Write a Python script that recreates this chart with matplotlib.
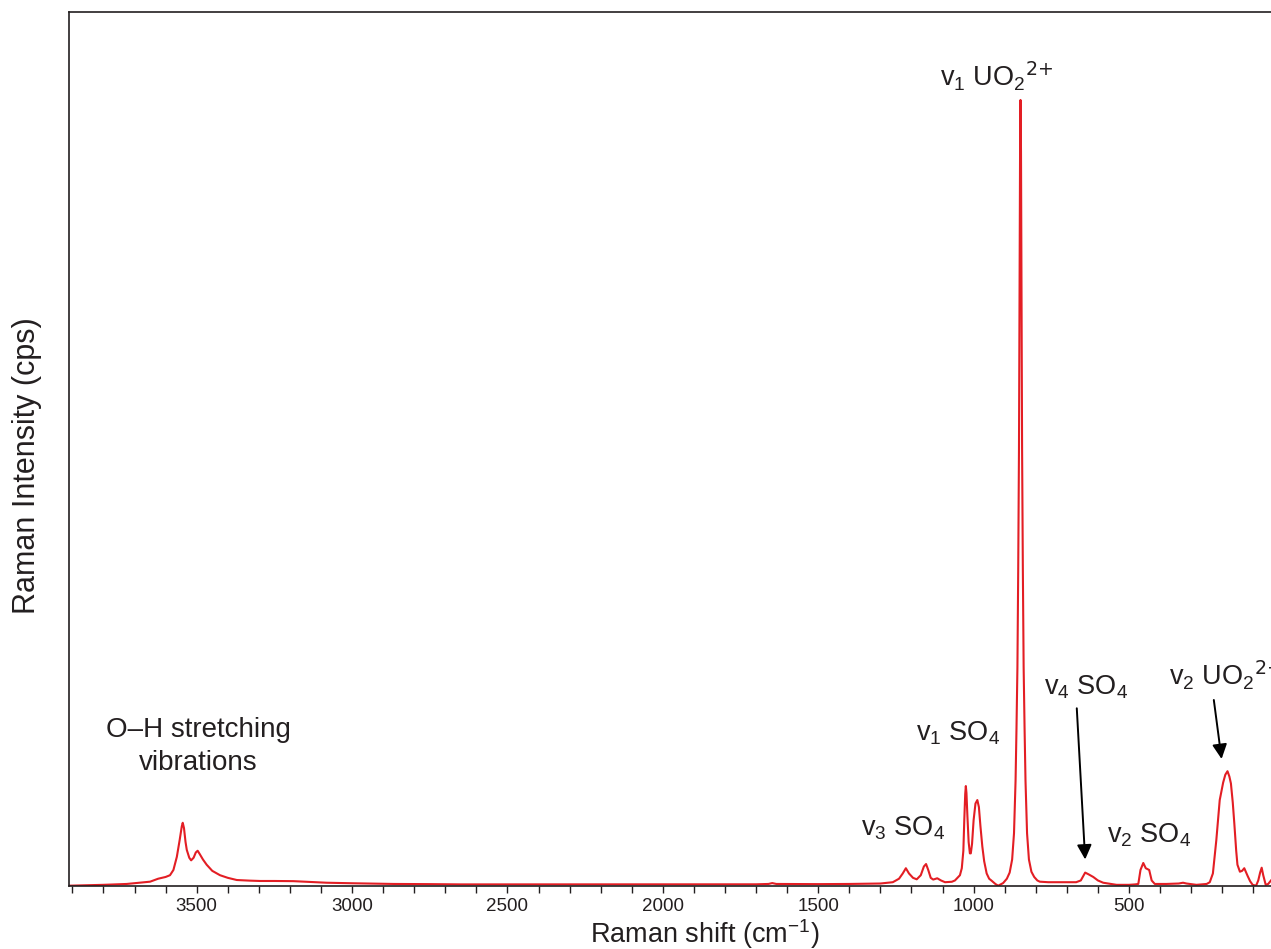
"""Raman spectrum of a uranyl sulfate mineral, redrawn from the figure."""

import matplotlib
matplotlib.use("Agg")
import matplotlib.pyplot as plt

plt.rcParams["font.family"] = ["Liberation Sans", "DejaVu Sans"]
plt.rcParams["mathtext.default"] = "regular"

# Spectrum (x in cm-1, intensity as fraction of axis height)
wavenumber = [
    3911, 3800, 3725, 3650, 3624, 3600, 3586, 3575, 3564, 3555, 3548, 3545,
    3541, 3536, 3532, 3524, 3518, 3510, 3503, 3497, 3490, 3480, 3468, 3450,
    3425, 3400, 3371, 3330, 3296, 3250, 3189, 3130, 3082, 3000, 2867, 2750,
    2650, 2500, 2300, 2100, 1900, 1700, 1660, 1648, 1635, 1500, 1400, 1300,
    1260, 1240, 1228, 1218, 1208, 1195, 1183, 1170, 1160, 1153, 1146, 1138,
    1130, 1117, 1105, 1092, 1070, 1060, 1044, 1038, 1033, 1030, 1027, 1025,
    1023, 1020, 1016, 1012, 1009, 1005, 1000, 994, 988, 983, 978, 972,
    966, 958, 950, 942, 930, 921, 905, 893, 884, 876, 870, 865,
    862, 859, 856.5, 854, 852, 850.5, 849, 847.5, 846, 844, 841.5, 839,
    836, 833, 828, 822, 814, 805, 795, 787, 760, 740, 700, 670,
    655, 641, 630, 615, 600, 583, 540, 500, 480, 470, 463, 454,
    446, 435, 427, 417, 380, 340, 326, 315, 283, 250, 240, 230,
    219, 208, 197, 190, 183, 177, 172, 166, 161, 155, 151, 143,
    136, 129, 118, 110, 102, 91, 84, 78, 73, 68, 60, 52, 43,
]
intensity = [
    0.000, 0.001, 0.002, 0.0046, 0.008, 0.010, 0.012, 0.018, 0.033, 0.052, 0.068, 0.072,
    0.066, 0.050, 0.041, 0.032, 0.029, 0.032, 0.038, 0.040, 0.036, 0.030, 0.024, 0.017,
    0.012, 0.009, 0.0065, 0.0058, 0.0054, 0.0054, 0.0052, 0.0042, 0.0034, 0.0028, 0.0020, 0.0018,
    0.0015, 0.0015, 0.0014, 0.0014, 0.0015, 0.0016, 0.0020, 0.0030, 0.0020, 0.0018, 0.0020, 0.0025,
    0.0040, 0.0080, 0.0140, 0.0200, 0.0140, 0.0090, 0.0073, 0.0120, 0.0220, 0.0248, 0.0180, 0.0090,
    0.0070, 0.0085, 0.0060, 0.0040, 0.0045, 0.0060, 0.0120, 0.0200, 0.0400, 0.0750, 0.1050, 0.1140,
    0.1060, 0.0800, 0.0500, 0.0370, 0.0370, 0.0480, 0.0750, 0.0940, 0.0980, 0.0900, 0.0680, 0.0450,
    0.0280, 0.0140, 0.0080, 0.0057, 0.0020, 0.0000, 0.0030, 0.0080, 0.0150, 0.0300, 0.0600, 0.1200,
    0.1800, 0.2500, 0.3600, 0.5000, 0.7000, 0.8400, 0.8990, 0.8400, 0.7000, 0.5000, 0.3600, 0.2500,
    0.1800, 0.1200, 0.0600, 0.0300, 0.0160, 0.0100, 0.0060, 0.0046, 0.0040, 0.0040, 0.0040, 0.0040,
    0.0060, 0.0150, 0.0130, 0.0100, 0.0060, 0.0034, 0.0010, 0.0010, 0.0015, 0.0020, 0.0180, 0.0260,
    0.0200, 0.0180, 0.0060, 0.0020, 0.0020, 0.0025, 0.0034, 0.0025, 0.0010, 0.0020, 0.0040, 0.0140,
    0.0520, 0.0980, 0.1180, 0.1270, 0.1310, 0.1250, 0.1170, 0.0950, 0.0710, 0.0400, 0.0240, 0.0160,
    0.0170, 0.0200, 0.0110, 0.0050, 0.0010, 0.0000, 0.0060, 0.0150, 0.0206, 0.0120, 0.0010, 0.0020, 0.0060,
]

x_range = (3911, 43)
major_ticks = [3500, 3000, 2500, 2000, 1500, 1000, 500]
minor_ticks = list(range(3900, 0, -100))

# (label, x, baseline y, alignment) in data coordinates
peak_labels = [
    (r"v$_1$ UO$_2{}^{\text{2+}}$", 925, 0.916, "center"),
    (r"v$_1$ SO$_4$", 1051, 0.1656, "center"),
    (r"v$_3$ SO$_4$", 1228, 0.0569, "center"),
    (r"v$_4$ SO$_4$", 639, 0.2182, "center"),
    (r"v$_2$ SO$_4$", 436, 0.0500, "center"),
    (r"v$_2$ UO$_2{}^{\text{2+}}$", 372, 0.2297, "left"),
    ("O\u2013H stretching", 3496, 0.1705, "center"),
    ("vibrations", 3496, 0.1324, "center"),
]

# (tail, head) of the two pointer arrows
arrow_tails = [(668, 0.203), (227, 0.2125)]
arrow_heads = [(641, 0.030), (202, 0.145)]

red = "#e31e24"
ink = "#231f20"

fig = plt.figure(figsize=(12.71, 9.49), dpi=100)
ax = fig.add_axes([69 / 1271, 1 - 885.7 / 949, 1 - 69 / 1271, 874 / 949])

ax.plot(wavenumber, intensity, color=red, lw=1.5, solid_joinstyle="round")

ax.set_xlim(*x_range)
ax.set_ylim(0, 1)
ax.set_xticks(major_ticks)
ax.set_xticks(minor_ticks, minor=True)
ax.set_yticks([])
ax.tick_params(axis="x", which="both", direction="out", length=5, width=1,
               labelsize=13.5, pad=4, colors=ink)
for side in ("left", "bottom", "top"):
    ax.spines[side].set_linewidth(1.2)
    ax.spines[side].set_color(ink)
ax.spines["right"].set_visible(False)

for text, x, y, align in peak_labels:
    size = 20 if "\u2013" in text or text == "vibrations" else 19.5
    ax.text(x, y, text, fontsize=size, color=ink, ha=align, va="baseline")

arrow = dict(arrowstyle="-|>", color="black", lw=1.4, mutation_scale=22,
             shrinkA=0, shrinkB=0)
for tail, head in zip(arrow_tails, arrow_heads):
    ax.annotate("", xy=head, xytext=tail, arrowprops=arrow)

fig.text(705 / 1271, 1 - 934 / 949, r"Raman shift (cm$^{-1}$)", fontsize=19.5,
         color=ink, ha="center", va="center")
fig.text(27 / 1271, 1 - 466 / 949, "Raman Intensity (cps)", fontsize=22,
         color=ink, ha="center", va="center", rotation=90)

fig.savefig("out.png", dpi=100)
